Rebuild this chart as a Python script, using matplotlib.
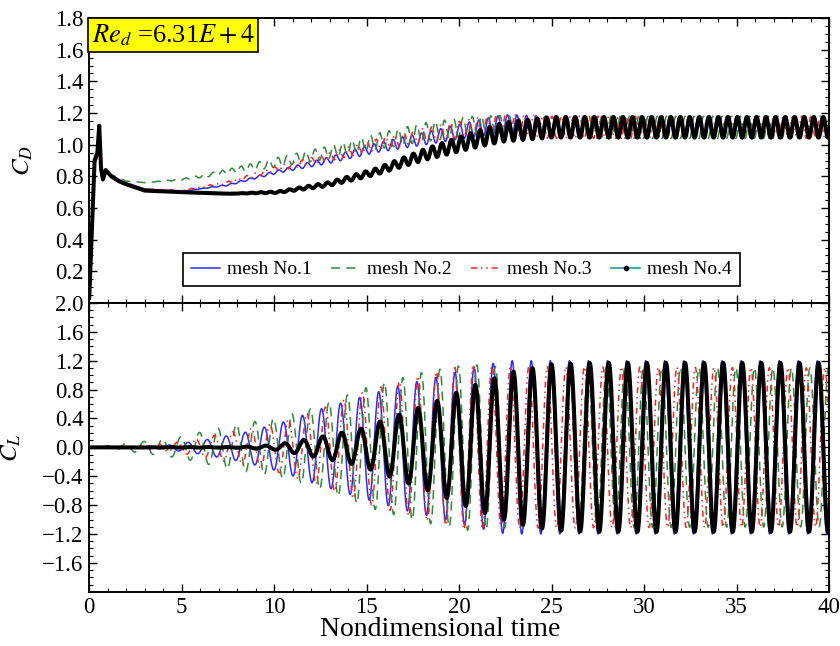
import numpy as np
import matplotlib
matplotlib.use("Agg")
import matplotlib.pyplot as plt
from matplotlib.ticker import MultipleLocator
from matplotlib.lines import Line2D

plt.rcParams['font.family'] = ['Liberation Serif', 'DejaVu Serif']
plt.rcParams['mathtext.fontset'] = 'stix'

# ---- values ----
labels = ["mesh No.1", "mesh No.2", "mesh No.3", "mesh No.4"]

# start-up transient of C_D (all meshes), t < 3
t_init = [0, 0.1, 0.3, 0.45, 0.55, 0.65, 0.75, 0.9, 1.2, 1.6, 2.0, 2.5, 3.0]
cd_init_1 = [0, 0.3, 0.88, 0.92, 0.95, 0.88, 0.80, 0.83, 0.81, 0.78, 0.76, 0.74, 0.72]
cd_init_2 = [0, 0.3, 0.88, 0.92, 0.95, 0.88, 0.80, 0.83, 0.81, 0.79, 0.77, 0.765, 0.76]
cd_init_3 = [0, 0.3, 0.88, 0.92, 0.95, 0.88, 0.80, 0.83, 0.81, 0.78, 0.76, 0.74, 0.72]
cd_init_4 = [0, 0.3, 0.90, 0.95, 1.12, 0.85, 0.78, 0.84, 0.80, 0.77, 0.75, 0.73, 0.71]

# C_D mean level and oscillation half-amplitude, t >= 3
t_cd = [3, 5, 7.5, 10.2, 12.9, 15.5, 18.2, 20.8, 22.4, 25, 40]
cd_mean_1 = [0.72, 0.705, 0.745, 0.83, 0.90, 0.98, 1.04, 1.10, 1.13, 1.11, 1.11]
cd_amp_1 = [0, 0, 0.004, 0.01, 0.02, 0.03, 0.04, 0.05, 0.06, 0.07, 0.07]
cd_mean_2 = [0.76, 0.78, 0.83, 0.89, 0.95, 1.02, 1.08, 1.12, 1.12, 1.11, 1.11]
cd_amp_2 = [0, 0.005, 0.015, 0.03, 0.04, 0.05, 0.06, 0.06, 0.065, 0.07, 0.07]
cd_mean_3 = [0.72, 0.71, 0.76, 0.85, 0.92, 1.00, 1.06, 1.11, 1.13, 1.11, 1.11]
cd_amp_3 = [0, 0.002, 0.008, 0.015, 0.025, 0.035, 0.045, 0.055, 0.065, 0.07, 0.07]
cd_mean_4 = [0.71, 0.70, 0.69, 0.70, 0.75, 0.83, 0.94, 1.03, 1.08, 1.11, 1.11]
cd_amp_4 = [0, 0, 0, 0.005, 0.012, 0.02, 0.035, 0.05, 0.06, 0.065, 0.065]

# C_L envelope (half-amplitude) of each mesh
t_cl_1 = [0, 4, 6.2, 8.3, 10.5, 12.5, 14.6, 16.7, 18.7, 20.7, 22.5, 40]
cl_amp_1 = [0, 0.02, 0.10, 0.20, 0.35, 0.53, 0.69, 0.85, 0.97, 1.10, 1.20, 1.20]
t_cl_2 = [0, 2, 5, 7.5, 10, 12.2, 15, 18, 20.5, 22, 40]
cl_amp_2 = [0, 0.05, 0.15, 0.30, 0.40, 0.55, 0.83, 1.04, 1.15, 1.12, 1.10]
t_cl_3 = [0, 3, 5, 7.5, 10, 12.2, 15, 18, 20.5, 22, 40]
cl_amp_3 = [0, 0.02, 0.08, 0.20, 0.33, 0.50, 0.78, 1.00, 1.15, 1.12, 1.10]
t_cl_4 = [0, 8, 10, 12.4, 14.6, 16.6, 18.6, 20.7, 21.7, 23, 25, 27, 40]
cl_amp_4 = [0, 0.005, 0.03, 0.14, 0.25, 0.44, 0.62, 0.85, 0.94, 1.05, 1.15, 1.17, 1.17]

# shedding frequency (lift) and phase of each mesh
freq = [0.97, 1.0, 1.0, 0.97]
phase = [0.4, 1.8, 3.0, 0.0]

# first sample spikes seen at t = 0
cd_first = [0, 0, 0, 2.5]
cl_first = [0, 0, 3.0, 0]

colors = ["#2b2bff", "#2e8b3a", "#ff2020", "#1aa39a"]
styles = ["-", (0, (6, 4)), (0, (4, 2.5, 1, 2.5, 1, 2.5)), "-"]

t = np.arange(0, 40.0001, 0.01)

cd_init = [cd_init_1, cd_init_2, cd_init_3, cd_init_4]
cd_mean = [cd_mean_1, cd_mean_2, cd_mean_3, cd_mean_4]
cd_amp = [cd_amp_1, cd_amp_2, cd_amp_3, cd_amp_4]
t_cl = [t_cl_1, t_cl_2, t_cl_3, t_cl_4]
cl_amp = [cl_amp_1, cl_amp_2, cl_amp_3, cl_amp_4]

cd_series, cl_series = [], []
for i in range(4):
    ph = 2 * np.pi * freq[i] * t + phase[i]
    mean = np.where(t < 3, np.interp(t, t_init, cd_init[i]), np.interp(t, t_cd, cd_mean[i]))
    cd = mean + np.interp(t, t_cd, cd_amp[i]) * np.cos(2 * ph)
    cl = np.interp(t, t_cl[i], cl_amp[i]) * np.sin(ph)
    cd[0] = cd_first[i]
    cl[0] = cl_first[i]
    cd_series.append(cd)
    cl_series.append(cl)

fig = plt.figure(figsize=(8.4, 6.46), dpi=100)
ax1 = fig.add_axes([0.106, 0.531, 0.881, 0.441])
ax2 = fig.add_axes([0.106, 0.084, 0.881, 0.447], sharex=ax1)

for ax, series in ((ax1, cd_series), (ax2, cl_series)):
    for i in range(3):
        ax.plot(t, series[i], color=colors[i], lw=1.1, ls=styles[i])
    # mesh No.4: teal line under dense black symbols -> thick black trace
    ax.plot(t[:2], series[3][:2], color=colors[3], lw=1.2)
    ax.plot(t[1:], series[3][1:], color="k", lw=2.9, solid_capstyle="round")

ax1.set_xlim(0, 40)
ax1.set_ylim(0, 1.8)
ax1.set_yticks(np.arange(0.2, 1.81, 0.2))
ax1.set_yticklabels(["0.2", "0.4", "0.6", "0.8", "1.0", "1.2", "1.4", "1.6", "1.8"])
ax2.set_ylim(-2.0, 2.0)
ax2.set_yticks(np.arange(-1.6, 2.01, 0.4))
ax2.set_yticklabels(["\u22121.6", "\u22121.2", "\u22120.8", "\u22120.4", "0.0",
                     "0.4", "0.8", "1.2", "1.6", "2.0"])
ax2.set_xticks(np.arange(0, 41, 5))
ax1.xaxis.set_minor_locator(MultipleLocator(1))
ax1.yaxis.set_minor_locator(MultipleLocator(0.05))
ax2.yaxis.set_minor_locator(MultipleLocator(0.1))

for ax in (ax1, ax2):
    for s in ax.spines.values():
        s.set_linewidth(1.4)
    ax.tick_params(which="both", direction="in", top=True, right=True, labelsize=16.5)
    ax.tick_params(which="major", length=6, width=1.0, pad=4)
    ax.tick_params(which="minor", length=3, width=0.8)
ax1.tick_params(labelbottom=False)

ax1.set_ylabel("$C_D$", fontsize=18, labelpad=14)
ax2.set_ylabel("$C_L$", fontsize=18, labelpad=14)
ax2.set_xlabel("Nondimensional time", fontsize=20, labelpad=-2)
ax2.xaxis.set_label_coords(0.474, -0.088)

ax1.text(0.004, 0.985, "$Re_d$ =6.31$E+4$", transform=ax1.transAxes,
         fontsize=19, va="top", ha="left",
         bbox=dict(boxstyle="square,pad=0.15", fc="#ffff00", ec="k", lw=1.2))

handles = []
for i in range(3):
    handles.append(Line2D([], [], color=colors[i], lw=1.1, ls=styles[i]))
handles.append(Line2D([], [], color=colors[3], lw=1.2, marker="o", ms=3,
                      mfc="k", mec="k"))
leg = ax1.legend(handles, labels, loc="lower center", ncol=4, fontsize=14,
                 frameon=True, fancybox=False, edgecolor="k", borderpad=0.4,
                 handlelength=1.5, columnspacing=1.0, handletextpad=0.35,
                 bbox_to_anchor=(0.503, 0.025), framealpha=1)
leg.get_frame().set_linewidth(1.2)

fig.savefig("out.png", dpi=100)
